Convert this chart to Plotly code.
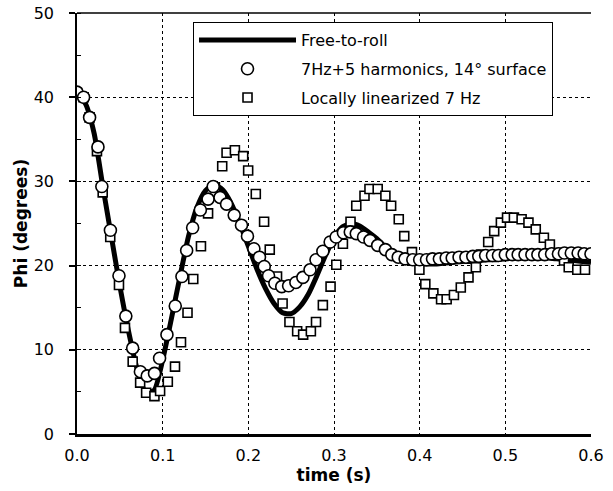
import plotly.graph_objects as go

# Free-to-roll (solid line)
line_t = [0.00, 0.01, 0.02, 0.03, 0.04, 0.05, 0.06, 0.07, 0.08, 0.09,
          0.10, 0.11, 0.12, 0.13, 0.14, 0.15, 0.16, 0.17, 0.18, 0.19,
          0.20, 0.21, 0.22, 0.23, 0.24, 0.25, 0.26, 0.27, 0.28, 0.29,
          0.30, 0.31, 0.32, 0.33, 0.34, 0.35, 0.36, 0.37, 0.38, 0.39,
          0.40, 0.41, 0.42, 0.43, 0.44, 0.45, 0.46, 0.47, 0.48, 0.49,
          0.50, 0.51, 0.52, 0.53, 0.54, 0.55, 0.56, 0.57, 0.58, 0.59, 0.60]
line_v = [40.5, 39.2, 35.7, 29.5, 23.5, 17.6, 12.3, 7.8, 5.0, 5.2,
          8.8, 13.6, 18.6, 23.4, 26.9, 28.9, 29.6, 29.0, 27.4, 25.0,
          22.3, 19.6, 17.3, 15.5, 14.4, 14.3, 15.1, 16.6, 18.8, 21.2,
          23.3, 24.6, 25.0, 24.7, 24.0, 23.2, 22.2, 21.3, 20.7, 20.3,
          20.2, 20.2, 20.2, 20.3, 20.4, 20.5, 20.5, 20.6, 20.7, 20.7,
          20.8, 20.9, 20.9, 21.0, 20.9, 20.9, 20.8, 20.7, 20.6, 20.5, 20.4]

# 7Hz+5 harmonics, 14 deg surface (open circles)
circ_t = [0.000, 0.0077, 0.0147, 0.0245, 0.029, 0.039, 0.049, 0.057, 0.065, 0.074,
          0.082, 0.0905, 0.0964, 0.105, 0.1147, 0.1225, 0.128, 0.135, 0.144, 0.153,
          0.159, 0.167, 0.1746, 0.1835, 0.192, 0.199, 0.2065, 0.213, 0.2186, 0.2236,
          0.231, 0.239, 0.247, 0.2555, 0.2637, 0.272, 0.279, 0.287, 0.2955, 0.3025,
          0.311, 0.319, 0.326, 0.3345, 0.342, 0.351, 0.360, 0.3675, 0.375, 0.383,
          0.392, 0.400, 0.408, 0.415, 0.423, 0.431, 0.438, 0.446, 0.454, 0.462,
          0.469, 0.477, 0.485, 0.492, 0.500, 0.508, 0.515, 0.523, 0.531, 0.538,
          0.546, 0.554, 0.562, 0.569, 0.577, 0.585, 0.592, 0.600]
circ_v = [40.6, 40.0, 37.6, 34.1, 29.4, 24.2, 18.8, 14.0, 10.2, 7.4,
          6.9, 7.2, 9.0, 11.8, 15.2, 18.7, 21.8, 24.5, 26.6, 27.9,
          29.4, 28.1, 27.3, 26.0, 24.8, 23.5, 22.0, 21.0, 19.9, 18.8,
          17.9, 17.5, 17.6, 18.0, 18.6, 19.5, 20.7, 21.7, 22.8, 23.4,
          23.9, 24.0, 23.8, 23.4, 23.0, 22.4, 21.9, 21.3, 21.0, 20.8,
          20.7, 20.7, 20.7, 20.8, 20.8, 20.9, 20.9, 21.0, 21.0, 21.1,
          21.1, 21.2, 21.2, 21.2, 21.3, 21.3, 21.3, 21.3, 21.3, 21.3,
          21.3, 21.4, 21.4, 21.5, 21.5, 21.5, 21.4, 21.4]

# Locally linearized 7 Hz (open squares)
sq_t = [0.000, 0.0077, 0.0147, 0.0233, 0.030, 0.0388, 0.049, 0.056, 0.065, 0.0737,
        0.0807, 0.0904, 0.097, 0.106, 0.1144, 0.1214, 0.129, 0.1357, 0.1447, 0.153,
        0.161, 0.1695, 0.1746, 0.1843, 0.194, 0.1998, 0.2087, 0.2184, 0.225, 0.2335,
        0.240, 0.248, 0.257, 0.264, 0.273, 0.279, 0.287, 0.296, 0.3027, 0.3104,
        0.3193, 0.326, 0.3356, 0.3414, 0.351, 0.360, 0.3667, 0.3756, 0.382, 0.391,
        0.3997, 0.4066, 0.416, 0.425, 0.4315, 0.440, 0.448, 0.457, 0.4656, 0.4715,
        0.480, 0.487, 0.4948, 0.502, 0.510, 0.519, 0.527, 0.5355, 0.545, 0.552,
        0.559, 0.5685, 0.574, 0.584, 0.593]
sq_v = [40.5, 40.0, 37.6, 33.6, 28.7, 23.4, 17.7, 12.6, 8.6, 6.1,
        4.9, 4.5, 5.1, 6.2, 8.0, 10.9, 14.4, 18.4, 22.3, 26.2,
        29.3, 31.8, 33.4, 33.7, 33.0, 31.3, 28.5, 25.2, 21.9, 18.7,
        15.5, 13.3, 12.2, 11.8, 12.2, 13.3, 15.3, 17.5, 20.1, 22.6,
        25.2, 27.1, 28.3, 29.1, 29.1, 28.3, 27.1, 25.5, 23.5, 21.6,
        19.5, 17.8, 16.7, 16.0, 16.0, 16.5, 17.4, 18.6, 19.8, 21.3,
        22.8, 24.1, 25.1, 25.7, 25.7, 25.5, 25.1, 24.3, 23.3, 22.5,
        21.5, 20.6, 19.8, 19.5, 19.5]

x_ticks = [0.0, 0.1, 0.2, 0.3, 0.4, 0.5, 0.6]
x_ticklabels = ["0.0", "0.1", "0.2", "0.3", "0.4", "0.5", "0.6"]
y_ticks = [0, 10, 20, 30, 40, 50]

FONT = "DejaVu Sans"

fig = go.Figure()
fig.add_trace(go.Scatter(
    x=line_t, y=line_v, mode="lines", name="Free-to-roll",
    line=dict(color="black", width=5, shape="spline", smoothing=0.6),
    legendgroup="a", legendrank=1))
fig.add_trace(go.Scatter(
    x=sq_t, y=sq_v, mode="markers", name="Locally linearized 7 Hz",
    marker=dict(symbol="square", size=9, color="white",
                line=dict(color="black", width=1.6)),
    legendgroup="c", legendrank=3))
fig.add_trace(go.Scatter(
    x=circ_t, y=circ_v, mode="markers", name="7Hz+5 harmonics, 14° surface",
    marker=dict(symbol="circle", size=12, color="white",
                line=dict(color="black", width=1.6)),
    legendgroup="b", legendrank=2))

fig.update_layout(
    width=613, height=491,
    margin=dict(l=77, r=22, t=13, b=57, autoexpand=False),
    paper_bgcolor="white", plot_bgcolor="white",
    font=dict(family=FONT, color="black", size=16),
    showlegend=True,
    legend=dict(
        x=0.2257, y=0.9786, xanchor="left", yanchor="top",
        bgcolor="white", bordercolor="black", borderwidth=1,
        font=dict(family=FONT, size=16, color="black"),
        itemwidth=97, tracegroupgap=5, traceorder="grouped",
    ),
    xaxis=dict(
        range=[0, 0.6], tickmode="array", tickvals=x_ticks, ticktext=x_ticklabels,
        showline=True, linecolor="black", linewidth=3,
        showgrid=True, gridcolor="black", gridwidth=1, griddash="dot",
        ticks="", zeroline=False, ticklabelstandoff=5, automargin=False,
        tickfont=dict(family=FONT, size=16),
        title=dict(text="<b>time (s)</b>", font=dict(family=FONT, size=17), standoff=4),
    ),
    yaxis=dict(
        range=[0, 50], tickmode="array", tickvals=y_ticks,
        showline=True, linecolor="black", linewidth=1.5,
        showgrid=True, gridcolor="black", gridwidth=1, griddash="dot",
        ticks="outside", ticklen=6, tickcolor="black", tickwidth=1.5,
        minor=dict(dtick=5, ticks="inside", ticklen=4, tickcolor="black",
                   tickwidth=1, showgrid=False),
        zeroline=False, ticklabelstandoff=12, automargin=False,
        tickfont=dict(family=FONT, size=16),
        title=dict(text="<b>Phi (degrees)</b>", font=dict(family=FONT, size=17), standoff=2),
    ),
    shapes=[dict(type="line", xref="paper", yref="paper", x0=0, x1=1, y0=1, y1=1,
                 line=dict(color="black", width=1.5))],
)

fig.write_html("out.html")
